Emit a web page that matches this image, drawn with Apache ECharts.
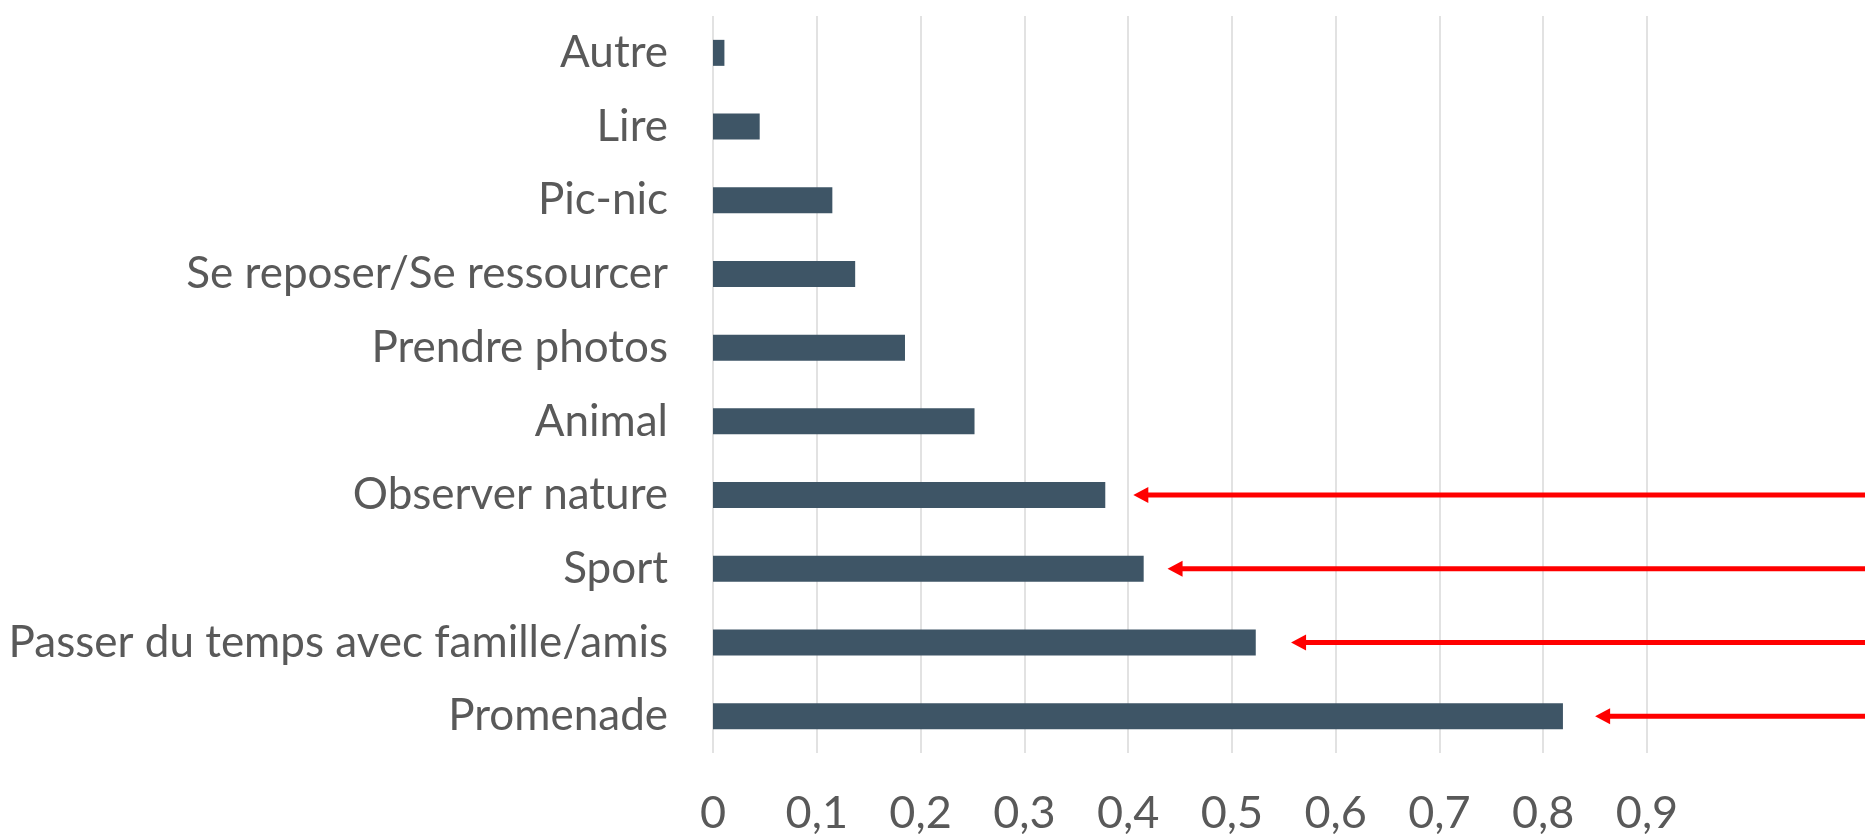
<!DOCTYPE html>
<html>
<head>
<meta charset="utf-8">
<script src="https://cdn.jsdelivr.net/npm/echarts@6/dist/echarts.min.js"></script>
<style>
  html, body { margin: 0; padding: 0; background: #ffffff; }
  #chart { width: 1865px; height: 836px; }
</style>
</head>
<body>
<div id="chart"></div>
<script>
// Activities, listed bottom to top as they appear on the category axis
const categories = [
  'Promenade',
  'Passer du temps avec famille/amis',
  'Sport',
  'Observer nature',
  'Animal',
  'Prendre photos',
  'Se reposer/Se ressourcer',
  'Pic-nic',
  'Lire',
  'Autre'
];
const shares = [0.819, 0.523, 0.415, 0.378, 0.252, 0.185, 0.137, 0.115, 0.045, 0.011];

// Highlight arrows: category, value where the arrow head points, value where the shaft starts
const arrowCategories = ['Promenade', 'Passer du temps avec famille/amis', 'Sport', 'Observer nature'];
const arrowTips = [0.850, 0.557, 0.438, 0.405];
const arrowTails = [1.2, 1.2, 1.2, 1.2];

const xTicks = [0, 0.1, 0.2, 0.3, 0.4, 0.5, 0.6, 0.7, 0.8, 0.9];

const FONT = 'Lato, "Open Sans", sans-serif';
const TEXT = '#595959';

const arrowData = arrowCategories.map((c, i) => [arrowTips[i], arrowTails[i], categories.indexOf(c)]);

const chart = echarts.init(document.getElementById('chart'), null, { renderer: 'canvas' });
chart.setOption({
  animation: false,
  backgroundColor: '#ffffff',
  grid: { left: 713, right: 218, top: 16, bottom: 83, containLabel: false, outerBoundsMode: 'none' },
  xAxis: {
    type: 'value',
    min: xTicks[0],
    max: xTicks[xTicks.length - 1],
    interval: 0.1,
    axisLine: { show: false },
    axisTick: { show: false },
    splitLine: { show: true, lineStyle: { color: '#d9d9d9', width: 1.5 } },
    axisLabel: {
      margin: 38,
      color: TEXT,
      fontFamily: FONT,
      fontSize: 45,
      formatter: v => String(Math.round(v * 10) / 10).replace('.', ',')
    }
  },
  yAxis: {
    type: 'category',
    data: categories,
    axisLine: { show: false },
    axisTick: { show: false },
    splitLine: { show: false },
    axisLabel: {
      margin: 45,
      color: TEXT,
      fontFamily: FONT,
      fontSize: 44
    }
  },
  series: [
    {
      type: 'bar',
      data: shares,
      barWidth: 26,
      itemStyle: { color: '#3e5566' },
      silent: true
    },
    {
      type: 'custom',
      clip: false,
      silent: true,
      data: arrowData,
      encode: { x: [0, 1], y: 2 },
      renderItem: function (params, api) {
        const tip = api.coord([api.value(0), api.value(2)]);
        const tail = api.coord([api.value(1), api.value(2)]);
        const headLen = 15, headHalf = 8;
        return {
          type: 'group',
          children: [
            {
              type: 'line',
              shape: { x1: tip[0] + headLen - 2, y1: tip[1], x2: tail[0], y2: tail[1] },
              style: { stroke: '#ff0000', lineWidth: 5 }
            },
            {
              type: 'polygon',
              shape: { points: [[tip[0], tip[1]], [tip[0] + headLen, tip[1] - headHalf], [tip[0] + headLen, tip[1] + headHalf]] },
              style: { fill: '#ff0000' }
            }
          ]
        };
      }
    }
  ]
});
</script>
</body>
</html>
